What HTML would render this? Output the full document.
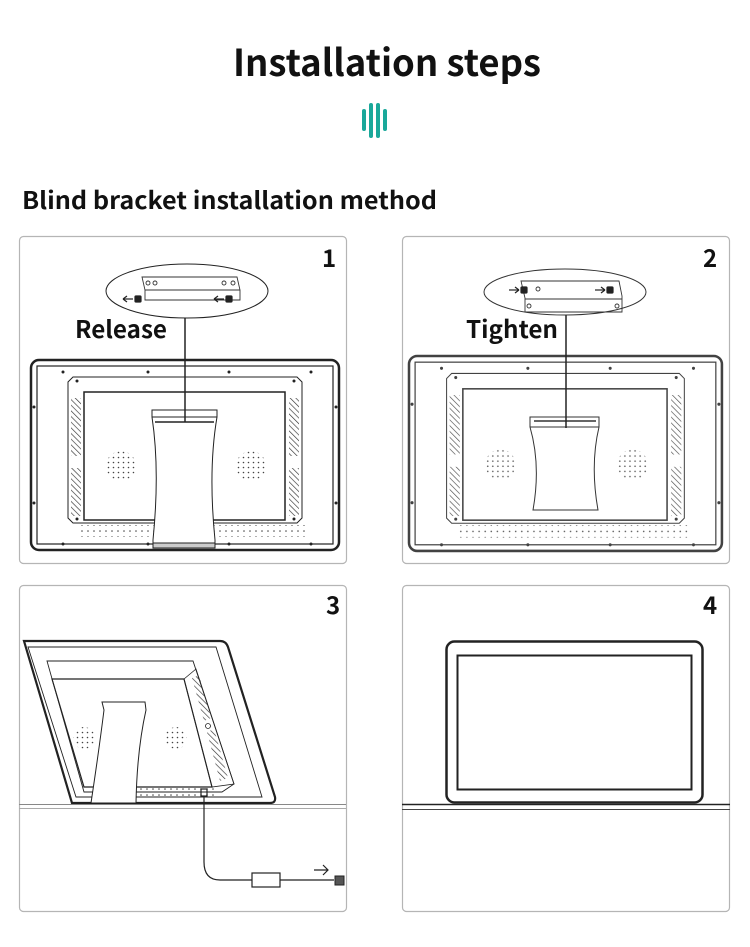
<!DOCTYPE html>
<html><head><meta charset="utf-8"><style>
html,body{margin:0;padding:0;background:#fff;}
body{width:750px;height:947px;position:relative;overflow:hidden;font-family:"Liberation Sans",sans-serif;}
svg text{font-family:"Noto Sans CJK SC","Liberation Sans",sans-serif;}
</style></head><body>
<svg width="750" height="947" viewBox="0 0 750 947" xmlns="http://www.w3.org/2000/svg" style="position:absolute;left:0;top:0">
<defs>
<pattern id="hatch" width="4" height="4" patternUnits="userSpaceOnUse" patternTransform="rotate(-45)"><line x1="0" y1="0" x2="0" y2="4" stroke="#333" stroke-width="1.3"/></pattern>
<pattern id="dots" width="5" height="5" patternUnits="userSpaceOnUse"><circle cx="2.5" cy="2.5" r="0.8" fill="#444"/></pattern>
<pattern id="vent" width="6" height="6" patternUnits="userSpaceOnUse"><circle cx="3" cy="3" r="0.8" fill="#444"/></pattern>
<g id="mon" fill="none" stroke="#222">
<rect x="0" y="0" width="308" height="190" rx="8" stroke-width="2.5"/>
<rect x="6" y="6" width="296" height="178" stroke-width="1.2"/>
<path d="M42 17 H266 L271 22 V158 L266 163 H42 L37 158 V22 Z" stroke-width="1"/>
<rect x="53" y="32" width="201" height="128" stroke-width="1.5"/>
<rect x="40" y="38" width="10" height="58" fill="url(#hatch)" stroke="none"/>
<rect x="40" y="108" width="10" height="48" fill="url(#hatch)" stroke="none"/>
<rect x="258" y="38" width="10" height="58" fill="url(#hatch)" stroke="none"/>
<rect x="258" y="108" width="10" height="48" fill="url(#hatch)" stroke="none"/>
<circle cx="90" cy="106" r="15" fill="url(#dots)" stroke="none"/>
<circle cx="220" cy="106" r="15" fill="url(#dots)" stroke="none"/>
<rect x="50" y="165" width="224" height="12" fill="url(#vent)" stroke="none"/>
<g fill="#222" stroke="none">
<circle cx="32" cy="12" r="1.5"/><circle cx="117" cy="12" r="1.5"/><circle cx="198" cy="12" r="1.5"/><circle cx="280" cy="12" r="1.5"/>
<circle cx="32" cy="184" r="1.5"/><circle cx="117" cy="184" r="1.5"/><circle cx="198" cy="184" r="1.5"/><circle cx="280" cy="184" r="1.5"/>
<circle cx="3" cy="47" r="1.5"/><circle cx="3" cy="143" r="1.5"/><circle cx="305" cy="47" r="1.5"/><circle cx="305" cy="143" r="1.5"/>
<circle cx="46" cy="21" r="1.5"/><circle cx="263" cy="21" r="1.5"/><circle cx="46" cy="159" r="1.5"/><circle cx="263" cy="159" r="1.5"/>
</g>
</g>
</defs>

<text x="233" y="76" font-size="37" font-weight="bold" fill="#111" textLength="308" lengthAdjust="spacingAndGlyphs">Installation steps</text>
<g fill="#1aa89a">
<rect x="362" y="109" width="4" height="22" rx="2"/>
<rect x="369" y="103" width="4" height="35" rx="2"/>
<rect x="376" y="103" width="4" height="35" rx="2"/>
<rect x="383" y="109" width="4" height="22" rx="2"/>
</g>
<text x="22" y="209" font-size="24" font-weight="bold" fill="#111" textLength="415" lengthAdjust="spacingAndGlyphs">Blind bracket installation method</text>

<g fill="none" stroke="#b5b5b5" stroke-width="1.2">
<rect x="19.5" y="236.5" width="327" height="327" rx="4"/>
<rect x="402.5" y="236.5" width="327" height="327" rx="4"/>
<rect x="19.5" y="585.5" width="327" height="326" rx="4"/>
<rect x="402.5" y="585.5" width="327" height="326" rx="4"/>
</g>
<g font-size="24" font-weight="bold" fill="#111">
<text x="322" y="267">1</text><text x="703" y="267">2</text>
<text x="326" y="614">3</text><text x="703" y="614">4</text>
</g>

<!-- Panel 1 -->
<use href="#mon" x="31" y="360"/>
<g fill="#fff" stroke="#222" stroke-width="1">
<path d="M152 410 H217 V417 Q208 470 215 540 V548 H153 V540 Q160 470 152 417 Z"/>
<line x1="152" y1="417" x2="217" y2="417"/>
<line x1="155" y1="422" x2="214" y2="422" stroke-width="1.5"/>
<rect x="153" y="543" width="62" height="5" fill="#ccc"/>
</g>
<line x1="185" y1="311" x2="185" y2="422" stroke="#222" stroke-width="1.5"/>
<ellipse cx="187" cy="291" rx="81" ry="27" fill="#fff" stroke="#222" stroke-width="1"/>
<g fill="none" stroke="#333" stroke-width="0.9">
<path d="M142 277 H237 L240 290 V300 H145 V290 Z"/><line x1="145" y1="290" x2="240" y2="290"/>
<circle cx="148" cy="283" r="2"/><circle cx="155" cy="283" r="2"/><circle cx="224" cy="283" r="2"/><circle cx="233" cy="283" r="2"/>
</g>
<g stroke="#222" stroke-width="1.2" fill="#222">
<line x1="123" y1="299" x2="133" y2="299"/><path d="M123 299 l4 -3 M123 299 l4 3" fill="none"/><rect x="135" y="296" width="6" height="6" rx="1"/>
<line x1="214" y1="299" x2="224" y2="299"/><path d="M214 299 l4 -3 M214 299 l4 3" fill="none"/><rect x="226" y="296" width="6" height="6" rx="1"/>
</g>
<text x="75" y="338" font-size="24" font-weight="bold" fill="#111" textLength="92" lengthAdjust="spacingAndGlyphs">Release</text>

<!-- Panel 2 -->
<g transform="translate(409,356) scale(1.016,1.026)" opacity="0.85"><use href="#mon"/></g>
<g fill="#fff" stroke="#333" stroke-width="1">
<path d="M530 417 H599 V427 Q590 465 598 510 H533 Q541 465 530 427 Z"/>
<line x1="530" y1="427" x2="599" y2="427"/>
<line x1="534" y1="421" x2="596" y2="421" stroke-width="1.5"/>
</g>
<line x1="566" y1="315" x2="566" y2="428" stroke="#222" stroke-width="1.5"/>
<ellipse cx="565" cy="292" rx="81" ry="23" fill="#fff" stroke="#333" stroke-width="1"/>
<g fill="none" stroke="#333" stroke-width="0.9">
<path d="M521 281 H619 L622 296 V312 H525 V298 Z"/><line x1="525" y1="299" x2="622" y2="299"/>
<circle cx="538" cy="289" r="2"/><circle cx="529" cy="306" r="2"/><circle cx="617" cy="306" r="2"/>
</g>
<g stroke="#222" stroke-width="1.2" fill="#222">
<line x1="509" y1="290" x2="519" y2="290"/><path d="M519 290 l-4 -3 M519 290 l-4 3" fill="none"/><rect x="521" y="287" width="6" height="6" rx="1"/>
<line x1="595" y1="290" x2="605" y2="290"/><path d="M605 290 l-4 -3 M605 290 l-4 3" fill="none"/><rect x="607" y="287" width="6" height="6" rx="1"/>
</g>
<text x="466" y="338" font-size="24" font-weight="bold" fill="#111" textLength="92" lengthAdjust="spacingAndGlyphs">Tighten</text>

<!-- Panel 3 -->
<g fill="none" stroke="#222">
<path d="M24 641 H220 Q226 641 228 647 L275 797 Q276 803 270 803 H72 Z" stroke-width="2.2" fill="#fff"/>
<path d="M28 647 H216 L262 797 H76 Z" stroke-width="0.9"/>
<path d="M47 661 H193 L234 784 L222 792 H84 Z" stroke-width="0.9"/>
<path d="M52 679 H184 L212 787 H84 Z" stroke-width="1.2"/>
<path d="M184 679 L196 669 L234 784 L212 787 Z" stroke-width="0.8"/>
<polygon points="192,678 199,675 211,718 204,721" fill="url(#hatch)" stroke="none"/>
<polygon points="207,732 214,729 228,778 220,781" fill="url(#hatch)" stroke="none"/>
<circle cx="208" cy="726" r="2.5" stroke-width="0.8"/>
<circle cx="84" cy="738" r="11" fill="url(#dots)" stroke="none"/>
<circle cx="176" cy="738" r="11" fill="url(#dots)" stroke="none"/>
<rect x="136" y="786" width="80" height="14" fill="url(#vent)" stroke="none"/>
<path d="M102 702 H145 L146 710 Q137 750 136 803 H91 Q99 750 104 710 Z" fill="#fff" stroke-width="1"/>
<line x1="19" y1="804.5" x2="346" y2="804.5" stroke="#888" stroke-width="1"/>
<line x1="19" y1="808.5" x2="346" y2="808.5" stroke="#aaa" stroke-width="1"/>
<rect x="201" y="789" width="6" height="7" stroke-width="1.2"/>
<path d="M204 796 V862 Q204 880 220 880 H252 M280 880 H334" stroke-width="1.2"/>
<rect x="252" y="873" width="28" height="14" fill="#fff" stroke-width="1.2"/>
<path d="M335 876 h9 v9 h-9 Z" fill="#555" stroke-width="1"/>
<path d="M314 870 H328 M323 865 L328 870 L323 875" stroke-width="1.2"/>
</g>

<!-- Panel 4 -->
<g fill="none" stroke="#222">
<rect x="446.5" y="641.5" width="256" height="161" rx="8" stroke-width="2.5" fill="#fff"/>
<rect x="457.5" y="655.5" width="234" height="134" stroke-width="2"/>
<line x1="402" y1="804.5" x2="730" y2="804.5" stroke="#222" stroke-width="1.5"/>
<line x1="402" y1="809.5" x2="730" y2="809.5" stroke="#444" stroke-width="1"/>
</g>
</svg>
</body></html>
